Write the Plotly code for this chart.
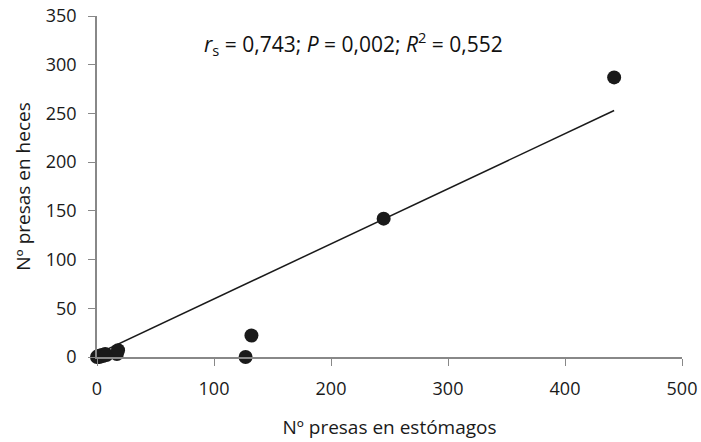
import plotly.graph_objects as go

x_estomagos = [0, 1, 2, 4, 5, 7, 8, 17, 18, 127, 132, 245, 442]
y_heces = [0, 1, 0, 2, 1, 3, 2, 3, 7, 0, 22, 142, 287]
trend_x = [0, 442]
trend_y = [3.0, 253.0]

fig = go.Figure()
fig.add_trace(go.Scatter(x=trend_x, y=trend_y, mode="lines",
                         line=dict(color="#1a1a1a", width=1.5), showlegend=False,
                         cliponaxis=False))
fig.add_trace(go.Scatter(x=x_estomagos, y=y_heces, mode="markers",
                         marker=dict(color="#1a1a1a", size=14), showlegend=False,
                         cliponaxis=False))

axis_font = dict(family="Open Sans", size=18, color="#1a1a1a")
title_font = dict(family="Open Sans", size=19, color="#1a1a1a")
fig.update_layout(
    width=701, height=442,
    margin=dict(l=97, r=19, t=16, b=85, autoexpand=False),
    plot_bgcolor="white", paper_bgcolor="white",
    font=dict(family="Open Sans", color="#1a1a1a"),
    xaxis=dict(range=[0, 500], dtick=100, showgrid=False, zeroline=False,
               showline=True, linecolor="#888", linewidth=1.5,
               ticks="outside", ticklen=7, tickcolor="#888",
               tickfont=axis_font, automargin=False, ticklabelstandoff=8,
               title=dict(text="Nº presas en estómagos", font=title_font, standoff=21)),
    yaxis=dict(range=[0, 350], dtick=50, showgrid=False, zeroline=False,
               showline=True, linecolor="#888", linewidth=1.5,
               ticks="outside", ticklen=7, tickcolor="#888",
               tickfont=axis_font, automargin=False, ticklabelstandoff=8,
               title=dict(text="Nº presas en heces", font=title_font, standoff=10)),
    annotations=[dict(x=0.438, y=0.92, xref="paper", yref="paper", showarrow=False,
                      xanchor="center", yanchor="middle",
                      text="<i>r</i><sub>s</sub> = 0,743; <i>P</i> = 0,002; <i>R</i><sup>2</sup> = 0,552",
                      font=dict(family="Open Sans", size=21, color="#111"))],
)
fig.write_html("out.html", config={"displayModeBar": False},
               post_script="document.body.style.margin='0';document.body.style.overflow='hidden';")
